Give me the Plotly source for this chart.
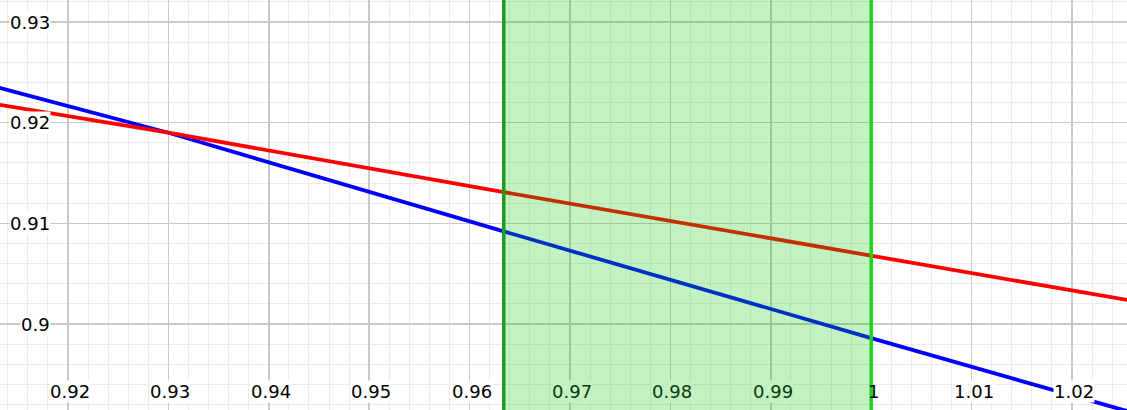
import plotly.graph_objects as go

# ---- data ----
line_x = [0.913, 0.93, 0.9634, 1.0, 1.026]
blue_y = [0.9235, 0.9190, 0.9092, 0.8986, 0.8912]
red_y = [0.9218, 0.9190, 0.9131, 0.9068, 0.9023]

shade_left = 0.9634
shade_right = 1.0

x_ticks = [0.92, 0.93, 0.94, 0.95, 0.96, 0.97, 0.98, 0.99, 1.0, 1.01, 1.02]
x_tick_labels = ["0.92", "0.93", "0.94", "0.95", "0.96", "0.97", "0.98", "0.99", "1", "1.01", "1.02"]
y_ticks = [0.90, 0.91, 0.92, 0.93]
y_tick_labels = ["0.9", "0.91", "0.92", "0.93"]

X_RANGE = [0.913227, 1.025478]
Y_RANGE = [0.891457, 0.932185]

W, H = 1127, 410
FONT = "DejaVu Sans"
FS = 18

fig = go.Figure()
fig.add_trace(go.Scatter(x=line_x, y=blue_y, mode="lines",
                         line=dict(color="#0000ff", width=3.8), hoverinfo="skip"))
fig.add_trace(go.Scatter(x=line_x, y=red_y, mode="lines",
                         line=dict(color="#ff0000", width=3.8), hoverinfo="skip"))

# shaded region (drawn above the curves, semi-transparent)
fig.add_shape(type="rect", xref="x", yref="paper", x0=shade_left, x1=shade_right,
              y0=0, y1=1, fillcolor="rgba(0,200,0,0.24)", line=dict(width=0),
              layer="above")
fig.add_shape(type="line", xref="x", yref="paper", x0=shade_left, x1=shade_left,
              y0=0, y1=1, line=dict(color="#229a22", width=3.5), layer="above")
fig.add_shape(type="line", xref="x", yref="paper", x0=shade_right, x1=shade_right,
              y0=0, y1=1, line=dict(color="#1ed21e", width=3.5), layer="above")

# tick labels as halo'd annotations
for v, t in zip(x_ticks, x_tick_labels):
    inside = shade_left < v < shade_right
    on_edge = abs(v - shade_right) < 1e-9
    fig.add_annotation(x=v, xref="x", y=1 - 391 / H, yref="paper", text=t,
                       showarrow=False, xanchor="center", yanchor="middle", xshift=2,
                       font=dict(family=FONT, size=FS,
                                 color="#0a3a0a" if inside else "#000000"),
                       bgcolor=("rgb(194,242,194)" if inside else
                                ("rgba(0,0,0,0)" if on_edge else "white")),
                       borderpad=0)
for v, t in zip(y_ticks, y_tick_labels):
    fig.add_annotation(x=51 / W, xref="paper", y=v, yref="y", text=t,
                       showarrow=False, xanchor="right", yanchor="middle",
                       font=dict(family=FONT, size=FS, color="#000000"),
                       bgcolor="white", borderpad=0)

axis_common = dict(showgrid=True, gridcolor="#c9c9c9", gridwidth=1.6,
                   zeroline=False, showline=False, showticklabels=False, ticks="",
                   fixedrange=True)
fig.update_xaxes(range=X_RANGE, dtick=0.01, tick0=0.92,
                 minor=dict(dtick=0.002, tick0=0.92, showgrid=True,
                            gridcolor="#ebebeb", gridwidth=1),
                 **axis_common)
fig.update_yaxes(range=Y_RANGE, dtick=0.01, tick0=0.9,
                 minor=dict(dtick=0.002, tick0=0.9, showgrid=True,
                            gridcolor="#ebebeb", gridwidth=1),
                 **axis_common)

fig.update_layout(width=W, height=H, autosize=False,
                  margin=dict(l=0, r=0, t=0, b=0, pad=0),
                  paper_bgcolor="white", plot_bgcolor="white",
                  showlegend=False, font=dict(family=FONT))

fig.write_html("out.html",
               config={"displayModeBar": False, "staticPlot": True},
               post_script="document.body.style.margin='0';document.body.style.padding='0';document.body.style.overflow='hidden';")
